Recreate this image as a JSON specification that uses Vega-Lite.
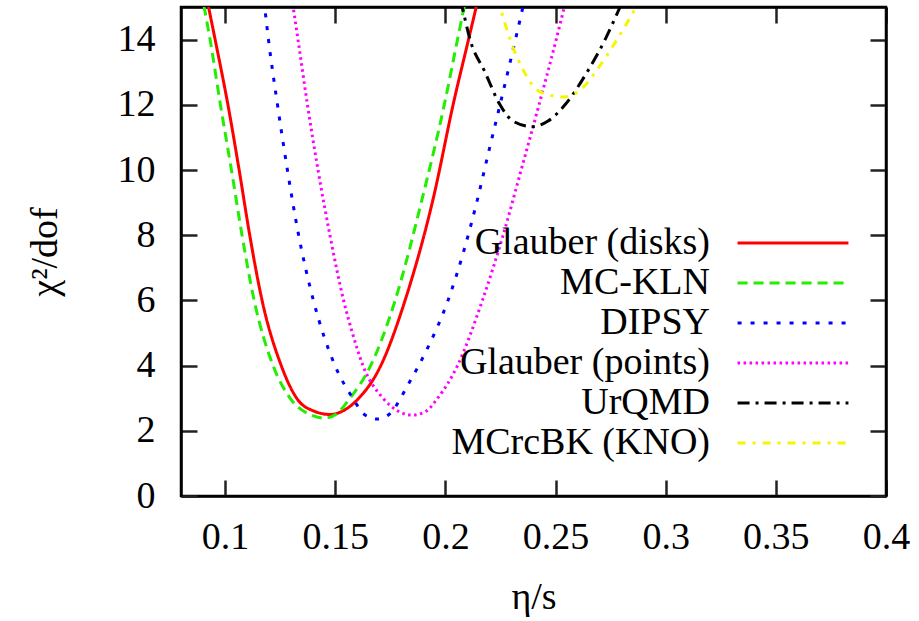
{
  "$schema": "https://vega.github.io/schema/vega-lite/v6.json",
  "autosize": {"type": "none"},
  "padding": {"left": 181, "top": 7, "right": 33, "bottom": 125},
  "width": 705,
  "height": 489,
  "background": "white",
  "config": {
    "view": {"stroke": "black", "strokeWidth": 2.5},
    "axis": {
      "grid": false,
      "domainColor": "black",
      "domainWidth": 2.5,
      "tickColor": "#222222",
      "tickWidth": 2.5,
      "tickSize": -16,
      "labelFont": "'Liberation Serif', 'DejaVu Serif', serif",
      "labelFontSize": 38,
      "labelColor": "black",
      "titleFont": "'Liberation Serif', 'DejaVu Serif', serif",
      "titleFontSize": 38,
      "titleFontWeight": "normal",
      "titleColor": "black"
    },
    "legend": {
      "labelFont": "'Liberation Serif', 'DejaVu Serif', serif",
      "labelFontSize": 38,
      "labelColor": "black"
    }
  },
  "data": {
    "values": [
      {"s": "Glauber (disks)", "x": 0.0895, "y": 16},
      {"s": "Glauber (disks)", "x": 0.0925, "y": 15},
      {"s": "Glauber (disks)", "x": 0.0955, "y": 14},
      {"s": "Glauber (disks)", "x": 0.1013, "y": 12},
      {"s": "Glauber (disks)", "x": 0.1064, "y": 10},
      {"s": "Glauber (disks)", "x": 0.1112, "y": 8},
      {"s": "Glauber (disks)", "x": 0.1168, "y": 6},
      {"s": "Glauber (disks)", "x": 0.1255, "y": 4},
      {"s": "Glauber (disks)", "x": 0.1325, "y": 3},
      {"s": "Glauber (disks)", "x": 0.1405, "y": 2.6},
      {"s": "Glauber (disks)", "x": 0.1477, "y": 2.5},
      {"s": "Glauber (disks)", "x": 0.1532, "y": 2.6},
      {"s": "Glauber (disks)", "x": 0.16, "y": 2.95},
      {"s": "Glauber (disks)", "x": 0.1704, "y": 3.96},
      {"s": "Glauber (disks)", "x": 0.1817, "y": 6.0},
      {"s": "Glauber (disks)", "x": 0.1944, "y": 9.1},
      {"s": "Glauber (disks)", "x": 0.204, "y": 12.15},
      {"s": "Glauber (disks)", "x": 0.2105, "y": 14},
      {"s": "Glauber (disks)", "x": 0.214, "y": 15},
      {"s": "Glauber (disks)", "x": 0.2175, "y": 16},

      {"s": "MC-KLN", "x": 0.0875, "y": 16},
      {"s": "MC-KLN", "x": 0.0905, "y": 15},
      {"s": "MC-KLN", "x": 0.0932, "y": 14},
      {"s": "MC-KLN", "x": 0.0979, "y": 12},
      {"s": "MC-KLN", "x": 0.1029, "y": 10},
      {"s": "MC-KLN", "x": 0.1077, "y": 8},
      {"s": "MC-KLN", "x": 0.1132, "y": 6},
      {"s": "MC-KLN", "x": 0.1218, "y": 4},
      {"s": "MC-KLN", "x": 0.1295, "y": 3},
      {"s": "MC-KLN", "x": 0.1385, "y": 2.5},
      {"s": "MC-KLN", "x": 0.1454, "y": 2.39},
      {"s": "MC-KLN", "x": 0.1502, "y": 2.5},
      {"s": "MC-KLN", "x": 0.1567, "y": 3},
      {"s": "MC-KLN", "x": 0.1658, "y": 3.96},
      {"s": "MC-KLN", "x": 0.1772, "y": 6.0},
      {"s": "MC-KLN", "x": 0.1894, "y": 9.1},
      {"s": "MC-KLN", "x": 0.1995, "y": 12},
      {"s": "MC-KLN", "x": 0.2055, "y": 14},
      {"s": "MC-KLN", "x": 0.2085, "y": 15},
      {"s": "MC-KLN", "x": 0.2115, "y": 16},

      {"s": "DIPSY", "x": 0.1165, "y": 16},
      {"s": "DIPSY", "x": 0.118, "y": 15},
      {"s": "DIPSY", "x": 0.1197, "y": 14},
      {"s": "DIPSY", "x": 0.1238, "y": 12},
      {"s": "DIPSY", "x": 0.1283, "y": 10},
      {"s": "DIPSY", "x": 0.1334, "y": 8},
      {"s": "DIPSY", "x": 0.1401, "y": 6},
      {"s": "DIPSY", "x": 0.1499, "y": 4},
      {"s": "DIPSY", "x": 0.158, "y": 3},
      {"s": "DIPSY", "x": 0.1632, "y": 2.5},
      {"s": "DIPSY", "x": 0.169, "y": 2.36},
      {"s": "DIPSY", "x": 0.1744, "y": 2.5},
      {"s": "DIPSY", "x": 0.1835, "y": 3.47},
      {"s": "DIPSY", "x": 0.1915, "y": 4.48},
      {"s": "DIPSY", "x": 0.2012, "y": 6.0},
      {"s": "DIPSY", "x": 0.2085, "y": 7.55},
      {"s": "DIPSY", "x": 0.2145, "y": 9.08},
      {"s": "DIPSY", "x": 0.2198, "y": 10.6},
      {"s": "DIPSY", "x": 0.2248, "y": 12},
      {"s": "DIPSY", "x": 0.2318, "y": 14},
      {"s": "DIPSY", "x": 0.2352, "y": 15},
      {"s": "DIPSY", "x": 0.2385, "y": 16},

      {"s": "Glauber (points)", "x": 0.1285, "y": 16},
      {"s": "Glauber (points)", "x": 0.1309, "y": 15},
      {"s": "Glauber (points)", "x": 0.1331, "y": 14},
      {"s": "Glauber (points)", "x": 0.1374, "y": 12},
      {"s": "Glauber (points)", "x": 0.1422, "y": 10},
      {"s": "Glauber (points)", "x": 0.1476, "y": 8},
      {"s": "Glauber (points)", "x": 0.1538, "y": 6},
      {"s": "Glauber (points)", "x": 0.1578, "y": 5},
      {"s": "Glauber (points)", "x": 0.1626, "y": 4},
      {"s": "Glauber (points)", "x": 0.1717, "y": 3},
      {"s": "Glauber (points)", "x": 0.1786, "y": 2.6},
      {"s": "Glauber (points)", "x": 0.1849, "y": 2.48},
      {"s": "Glauber (points)", "x": 0.1912, "y": 2.6},
      {"s": "Glauber (points)", "x": 0.1965, "y": 3},
      {"s": "Glauber (points)", "x": 0.2055, "y": 4},
      {"s": "Glauber (points)", "x": 0.2168, "y": 6.0},
      {"s": "Glauber (points)", "x": 0.2262, "y": 8},
      {"s": "Glauber (points)", "x": 0.2344, "y": 10},
      {"s": "Glauber (points)", "x": 0.2425, "y": 12},
      {"s": "Glauber (points)", "x": 0.2503, "y": 14},
      {"s": "Glauber (points)", "x": 0.254, "y": 15},
      {"s": "Glauber (points)", "x": 0.2578, "y": 16},

      {"s": "UrQMD", "x": 0.2035, "y": 16},
      {"s": "UrQMD", "x": 0.2076, "y": 15},
      {"s": "UrQMD", "x": 0.2112, "y": 14},
      {"s": "UrQMD", "x": 0.218, "y": 13},
      {"s": "UrQMD", "x": 0.2248, "y": 12},
      {"s": "UrQMD", "x": 0.2307, "y": 11.5},
      {"s": "UrQMD", "x": 0.2394, "y": 11.33},
      {"s": "UrQMD", "x": 0.2466, "y": 11.5},
      {"s": "UrQMD", "x": 0.2543, "y": 12},
      {"s": "UrQMD", "x": 0.2643, "y": 13},
      {"s": "UrQMD", "x": 0.2725, "y": 14},
      {"s": "UrQMD", "x": 0.2793, "y": 15},
      {"s": "UrQMD", "x": 0.286, "y": 16},

      {"s": "MCrcBK (KNO)", "x": 0.2205, "y": 16},
      {"s": "MCrcBK (KNO)", "x": 0.2248, "y": 15},
      {"s": "MCrcBK (KNO)", "x": 0.2294, "y": 14},
      {"s": "MCrcBK (KNO)", "x": 0.2353, "y": 13.07},
      {"s": "MCrcBK (KNO)", "x": 0.243, "y": 12.4},
      {"s": "MCrcBK (KNO)", "x": 0.2535, "y": 12.24},
      {"s": "MCrcBK (KNO)", "x": 0.262, "y": 12.5},
      {"s": "MCrcBK (KNO)", "x": 0.2688, "y": 13.07},
      {"s": "MCrcBK (KNO)", "x": 0.2779, "y": 14},
      {"s": "MCrcBK (KNO)", "x": 0.2865, "y": 15},
      {"s": "MCrcBK (KNO)", "x": 0.294, "y": 16}
    ]
  },
  "layer": [
    {
      "mark": {"type": "line", "clip": true, "interpolate": "monotone"},
      "encoding": {
        "x": {
          "field": "x", "type": "quantitative",
          "scale": {"domain": [0.08, 0.4], "nice": false, "zero": false},
          "axis": {
            "title": "η/s",
            "values": [0.1, 0.15, 0.2, 0.25, 0.3, 0.35, 0.4],
            "format": "~g",
            "labelBaseline": "alphabetic",
            "labelPadding": 68,
            "labelFlush": false,
            "titleY": 112,
            "titleBaseline": "alphabetic"
          }
        },
        "y": {
          "field": "y", "type": "quantitative",
          "scale": {"domain": [0, 15], "nice": false, "zero": false},
          "axis": {
            "title": "χ²/dof",
            "values": [0, 2, 4, 6, 8, 10, 12, 14],
            "labelPadding": 42,
            "labelFlush": false,
            "titleX": -136,
            "titleY": 244.5,
            "titleAngle": -90,
            "titleAlign": "center",
            "titleBaseline": "middle"
          }
        },
        "color": {
          "field": "s", "type": "nominal",
          "scale": {
            "domain": ["Glauber (disks)", "MC-KLN", "DIPSY", "Glauber (points)", "UrQMD", "MCrcBK (KNO)"],
            "range": ["#ff0000", "#22ee00", "#0000ff", "#ff00ff", "#000000", "#f5f500"]
          },
          "legend": {
            "title": null,
            "orient": "none",
            "legendX": 593,
            "legendY": 217,
            "symbolType": "M-4.9,0H4.9",
            "symbolSize": 512,
            "symbolStrokeWidth": 3,
            "labelAlign": "right",
            "labelBaseline": "middle",
            "labelOffset": -102,
            "labelLimit": 500,
            "rowPadding": 2,
            "padding": 0
          }
        },
        "strokeDash": {
          "field": "s", "type": "nominal",
          "scale": {
            "domain": ["Glauber (disks)", "MC-KLN", "DIPSY", "Glauber (points)", "UrQMD", "MCrcBK (KNO)"],
            "range": [[1, 0], [10, 6], [4, 9], [2.5, 3.5], [12, 6, 3, 6], [8, 7, 3, 7]]
          },
          "legend": {
            "title": null,
            "orient": "none",
            "legendX": 593,
            "legendY": 217,
            "symbolType": "M-4.9,0H4.9",
            "symbolSize": 512,
            "symbolStrokeWidth": 3,
            "labelAlign": "right",
            "labelBaseline": "middle",
            "labelOffset": -102,
            "labelLimit": 500,
            "rowPadding": 2,
            "padding": 0
          }
        },
        "strokeWidth": {
          "field": "s", "type": "nominal",
          "scale": {
            "domain": ["Glauber (disks)", "MC-KLN", "DIPSY", "Glauber (points)", "UrQMD", "MCrcBK (KNO)"],
            "range": [3, 3, 4, 3, 3, 3]
          },
          "legend": null
        }
      }
    },
    {
      "mark": {"type": "point", "opacity": 0, "clip": true},
      "encoding": {
        "x": {
          "field": "x", "type": "quantitative",
          "scale": {"domain": [0.08, 0.4], "nice": false, "zero": false},
          "axis": {"orient": "top", "title": null, "labels": false, "values": [0.1, 0.15, 0.2, 0.25, 0.3, 0.35, 0.4]}
        },
        "y": {
          "field": "y", "type": "quantitative",
          "scale": {"domain": [0, 15], "nice": false, "zero": false},
          "axis": {"orient": "right", "title": null, "labels": false, "values": [0, 2, 4, 6, 8, 10, 12, 14]}
        }
      }
    }
  ],
  "resolve": {"axis": {"x": "independent", "y": "independent"}}
}
